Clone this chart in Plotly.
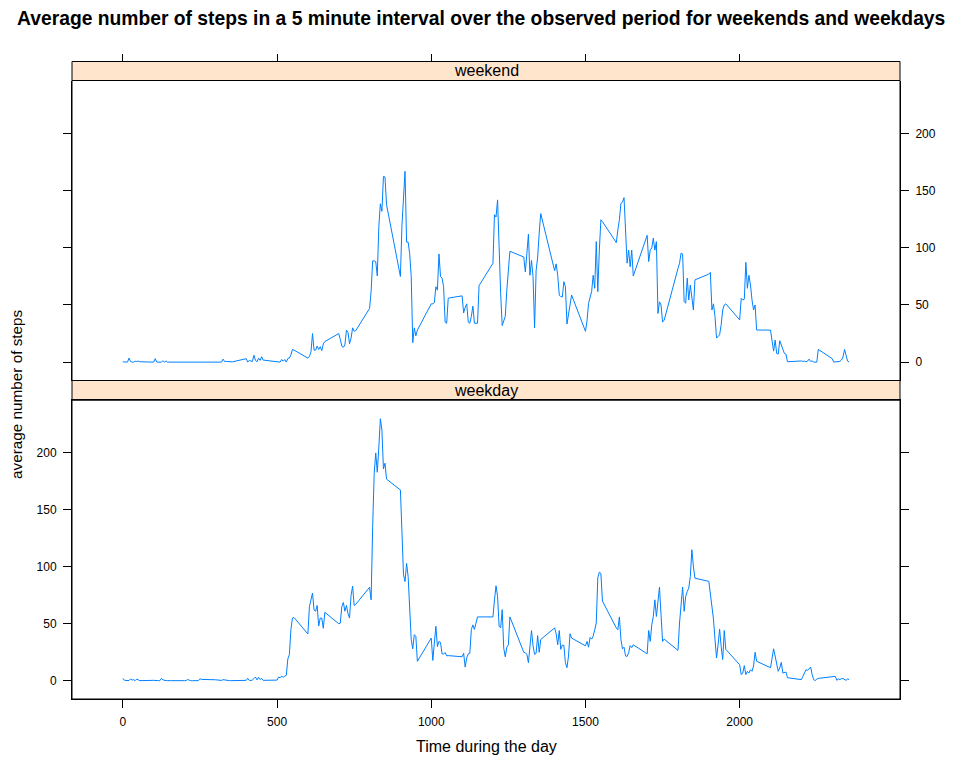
import plotly.graph_objects as go

# 5-minute interval identifiers (HHMM)
intervals = [h * 100 + m for h in range(24) for m in range(0, 60, 5)]

weekend_steps = [
    0.2, 0.0, 0.0, 0.0, 3.5, 0.5, 0.0, 0.0, 0.8, 0.5, 0.9, 0.3,
    0.0, 3.0, 0.0, 0.0, 0.0, 0.0, 1.2, 0.0, 1.0, 0.0, 0.0, 0.0,
    0.0, 0.6, 0.0, 0.0, 0.0, 0.0, 0.0, 0.0, 0.0, 0.0, 0.5, 0.0,
    0.0, 0.0, 0.0, 0.0, 0.0, 2.6, 0.5, 0.6, 0.6, 0.6, 0.5, 0.2,
    3.0, 0.0, 1.5, 0.8, 0.5, 6.0, 1.5, 0.3, 3.5, 1.5, 4.7, 1.8,
    0.0, 0.2, 0.0, 2.3, 0.8, 2.3, 0.0, 3.2, 3.5, 6.4, 11.1, 10.5,
    3.5, 5.0, 9.0, 25.0, 10.5, 10.5, 14.0, 11.0, 13.5, 10.0, 16.0, 18.0,
    25.0, 20.0, 14.0, 13.0, 15.0, 28.0, 26.0, 16.0, 21.0, 30.0, 27.0, 27.5,
    47.0, 62.0, 88.6, 88.6, 88.0, 75.5, 118.7, 138.6, 132.0, 162.5, 162.0, 137.8,
    75.0, 120.0, 150.0, 167.0, 105.0, 105.0, 95.0, 75.0, 17.0, 30.0, 23.0, 28.0,
    51.0, 51.0, 52.0, 66.0, 63.0, 94.7, 75.0, 73.5, 66.0, 35.0, 34.0, 56.0,
    58.0, 43.0, 48.0, 51.0, 35.0, 34.0, 40.0, 49.0, 34.0, 34.0, 34.0, 67.0,
    86.5, 129.0, 127.0, 142.0, 95.0, 60.0, 32.0, 36.0, 40.0, 63.0, 80.0, 97.0,
    92.0, 79.0, 95.0, 112.0, 76.0, 89.0, 75.0, 30.0, 80.0, 92.0, 113.0, 130.0,
    80.0, 86.0, 76.0, 58.7, 57.3, 57.0, 70.4, 66.0, 33.3, 42.6, 51.5, 58.7,
    27.0, 36.0, 51.5, 57.0, 61.7, 76.0, 64.6, 105.5, 61.7, 98.0, 124.6, 123.0,
    104.6, 115.8, 124.6, 139.0, 140.0, 144.0, 110.0, 86.6, 98.0, 83.4, 98.0, 75.4,
    111.0, 88.0, 98.0, 100.0, 108.5, 98.0, 105.5, 42.6, 52.8, 50.0, 35.2, 36.5,
    82.0, 86.5, 95.4, 94.7, 53.0, 51.5, 73.5, 54.4, 67.5, 57.3, 45.6, 72.0,
    77.0, 78.5, 45.6, 51.0, 40.0, 21.0, 22.5, 23.9, 32.7, 45.6, 50.0, 51.0,
    37.0, 55.8, 54.4, 55.0, 87.3, 64.6, 76.0, 67.5, 54.4, 45.6, 50.0, 28.1,
    28.0, 16.4, 9.6, 19.3, 7.6, 7.0, 18.7, 15.0, 10.5, 7.6, 7.0, 0.3,
    1.0, 0.6, 0.9, 0.3, 0.9, 2.6, 0.6, 1.0, 0.0, 0.3, 0.0, 11.1,
    3.0, 0.0, 0.0, 0.0, 0.0, 0.6, 1.8, 4.5, 11.1, 4.5, 0.9, 0.0,
]

weekday_steps = [
    2.0, 0.4, 0.2, 0.2, 0.1, 1.5, 0.5, 0.9, 0.0, 1.4, 0.3, 0.0,
    0.3, 0.0, 0.1, 0.0, 0.0, 2.0, 0.7, 0.0, 0.0, 0.1, 0.0, 0.0,
    0.0, 0.0, 1.0, 0.2, 0.0, 0.0, 0.0, 0.0, 0.0, 0.0, 1.7, 1.1,
    0.8, 0.5, 0.3, 0.1, 0.2, 0.9, 0.6, 0.0, 0.0, 0.0, 0.0, 0.0,
    0.3, 2.0, 0.3, 0.1, 0.6, 1.8, 3.2, 0.7, 2.9, 1.0, 2.0, 0.3,
    0.5, 3.2, 2.5, 4.0, 3.0, 4.0, 4.7, 19.0, 23.0, 45.0, 55.0, 55.5,
    41.0, 65.0, 70.0, 77.0, 62.0, 61.0, 66.0, 48.0, 55.0, 55.0, 46.0, 60.0,
    50.0, 50.5, 65.0, 68.7, 61.0, 66.0, 59.0, 55.0, 75.0, 83.0, 66.0, 67.0,
    82.0, 71.0, 135.0, 182.0, 200.0, 183.0, 205.0, 230.0, 220.0, 186.0, 191.0, 177.0,
    167.5, 119.0, 93.0, 87.0, 103.0, 91.5, 62.4, 36.2, 28.0, 40.4, 39.0, 17.0,
    37.4, 17.8, 33.0, 47.8, 30.0, 34.5, 33.6, 23.6, 23.3, 24.7, 21.8, 22.0,
    21.0, 24.0, 11.9, 20.0, 23.6, 24.0, 45.0, 49.0, 45.0, 52.0, 56.0, 56.0,
    56.0, 71.0, 83.3, 74.0, 47.8, 46.3, 62.4, 28.6, 21.0, 29.4, 31.5, 56.0,
    24.9, 24.5, 23.1, 15.8, 32.2, 44.0, 30.8, 23.1, 24.0, 39.5, 24.9, 36.2,
    46.3, 41.2, 31.5, 44.0, 27.5, 31.2, 31.0, 15.8, 11.4, 21.6, 41.2, 37.4,
    30.6, 34.5, 29.4, 38.0, 36.5, 39.0, 44.7, 50.6, 90.4, 95.3, 94.2, 69.9,
    46.3, 44.7, 56.0, 36.2, 28.0, 29.4, 21.8, 21.2, 24.5, 30.8, 29.0, 31.5,
    23.6, 44.1, 34.5, 49.0, 56.4, 71.0, 56.4, 68.1, 82.2, 57.9, 34.5, 36.5,
    26.6, 50.6, 70.0, 82.2, 60.9, 74.0, 78.4, 81.3, 91.5, 115.0, 100.0, 90.0,
    87.2, 76.3, 62.4, 54.1, 36.2, 19.9, 31.5, 45.3, 30.0, 18.6, 44.0, 27.5,
    14.0, 5.3, 6.7, 13.2, 5.3, 8.2, 6.7, 9.6, 8.2, 12.9, 24.9, 17.0,
    11.4, 19.9, 28.0, 21.6, 14.0, 8.2, 11.1, 16.1, 6.7, 7.3, 7.6, 2.6,
    0.9, 3.8, 6.7, 9.6, 9.0, 10.2, 12.0, 5.3, 0.9, 0.0, 1.5, 2.0,
    3.2, 3.8, 3.8, 0.3, 1.5, 0.9, 1.8, 1.8, 0.9, 0.3, 1.5, 0.9,
]

panel_names = ["weekend", "weekday"]
x_ticks = [0, 500, 1000, 1500, 2000]
y_ticks = [0, 50, 100, 150, 200]

# page body has an 8px margin; the figure is sized to fill the rest
OFF = 8
W, H = 960 - OFF, 768 - OFF
FONT = "Liberation Sans, Arial, Helvetica, sans-serif"
LINE_COLOR = "#0080FF"
STRIP_FILL = "#FFE5CC"

def px(pix):
    return (pix - OFF) / W

def py(pix):
    return 1 - (pix - OFF) / H

x_dom = [px(72), px(900)]
top_dom = [py(380.5), py(80.5)]
bot_dom = [py(699), py(400)]
x_range = [-164.85, 2519.85]
y_range = [-16.1, 246.5]

fig = go.Figure()
fig.add_trace(go.Scatter(x=intervals, y=weekend_steps, mode="lines",
                         line=dict(color=LINE_COLOR, width=1),
                         xaxis="x", yaxis="y", showlegend=False, hoverinfo="skip"))
fig.add_trace(go.Scatter(x=intervals, y=weekday_steps, mode="lines",
                         line=dict(color=LINE_COLOR, width=1),
                         xaxis="x2", yaxis="y2", showlegend=False, hoverinfo="skip"))

tickfont = dict(family=FONT, size=12, color="black")

fig.update_layout(
    width=W, height=H,
    margin=dict(l=0, r=0, t=0, b=0),
    paper_bgcolor="white", plot_bgcolor="white",
    showlegend=False,
    xaxis=dict(domain=x_dom, range=x_range, anchor="free", position=py(61.5),
               side="top", tickvals=x_ticks, showticklabels=False,
               ticks="outside", ticklen=8, tickcolor="black", tickwidth=1,
               showline=False, showgrid=False, zeroline=False),
    yaxis=dict(domain=top_dom, range=y_range, anchor="x", side="right",
               tickvals=y_ticks, ticks="outside", ticklen=8, tickcolor="black",
               tickwidth=1, showline=True, linecolor="black", linewidth=1,
               mirror="ticks", showgrid=False, zeroline=False, tickfont=tickfont,
               ticklabelstandoff=4),
    xaxis2=dict(domain=x_dom, range=x_range, anchor="y2", side="bottom",
                tickvals=x_ticks, ticks="outside", ticklen=8, tickcolor="black",
                tickwidth=1, showline=True, linecolor="black", linewidth=1,
                mirror=True, showgrid=False, zeroline=False, tickfont=tickfont,
                ticklabelstandoff=4),
    yaxis2=dict(domain=bot_dom, range=y_range, anchor="x2", side="left",
                tickvals=y_ticks, ticks="outside", ticklen=8, tickcolor="black",
                tickwidth=1, showline=True, linecolor="black", linewidth=1,
                mirror="ticks", showgrid=False, zeroline=False, tickfont=tickfont,
                ticklabelstandoff=4),
)

# panel boxes and strips
shapes = []
for (y0, y1) in [(80.5, 380.5), (400, 699)]:
    shapes.append(dict(type="rect", xref="paper", yref="paper",
                       x0=x_dom[0], x1=x_dom[1], y0=py(y1), y1=py(y0),
                       line=dict(color="black", width=1), fillcolor="rgba(0,0,0,0)",
                       layer="above"))
strip_pos = [(61.5, 80.5), (380.5, 400)]
for (y0, y1), name in zip(strip_pos, panel_names):
    shapes.append(dict(type="rect", xref="paper", yref="paper",
                       x0=x_dom[0], x1=x_dom[1], y0=py(y1), y1=py(y0),
                       line=dict(color="black", width=1), fillcolor=STRIP_FILL,
                       layer="below"))
fig.update_layout(shapes=shapes)

annotations = []
for (y0, y1), name in zip(strip_pos, panel_names):
    annotations.append(dict(text=name, xref="paper", yref="paper",
                            x=(x_dom[0] + x_dom[1]) / 2, y=py((y0 + y1) / 2),
                            xanchor="center", yanchor="middle", showarrow=False,
                            font=dict(family=FONT, size=16, color="black")))
annotations.append(dict(
    text="<b>Average number of steps in a 5 minute interval over the observed period for weekends and weekdays</b>",
    xref="paper", yref="paper", x=px(480.5), y=py(18), xanchor="center", yanchor="middle",
    showarrow=False, font=dict(family=FONT, size=19.3, color="black")))
annotations.append(dict(text="Time during the day", xref="paper", yref="paper",
                        x=(x_dom[0] + x_dom[1]) / 2, y=py(746), xanchor="center",
                        yanchor="middle", showarrow=False,
                        font=dict(family=FONT, size=16, color="black")))
annotations.append(dict(text="average number of steps", xref="paper", yref="paper",
                        x=px(16), y=py(394), xanchor="center", yanchor="middle",
                        textangle=-90, showarrow=False,
                        font=dict(family=FONT, size=15.3, color="black")))
fig.update_layout(annotations=annotations)

fig.write_html("out.html")
